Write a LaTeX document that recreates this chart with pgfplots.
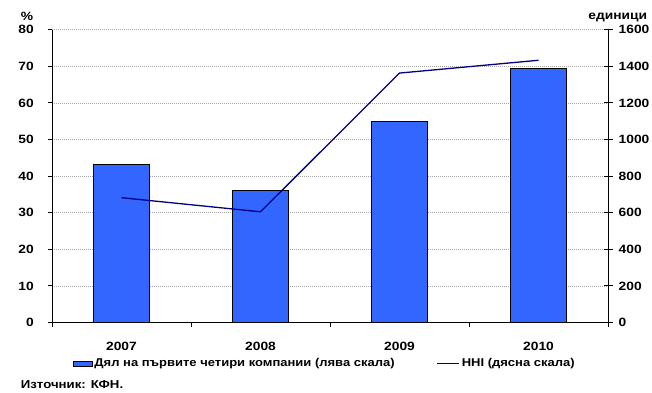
\documentclass[border=0pt]{standalone}
\usepackage{fontspec}
\setmainfont{Liberation Sans}[FakeStretch=1.15]
\usepackage{pgfplots}
\pgfplotsset{compat=1.18}
\definecolor{barblue}{HTML}{3366FF}
\definecolor{hhinavy}{HTML}{000080}
\pgfplotstableread{
x share hhi
0 43.3 682
1 36.0 605
2 55.0 1363
3 69.3 1433
}\datatable
\begin{document}
\begin{tikzpicture}[x=1pt,y=1pt]
\path[use as bounding box] (0,0) rectangle (652,392);
\pgfplotsset{
  common/.style={
    at={(52pt,69.5pt)}, anchor=south west,
    scale only axis, width=556pt, height=292.8pt,
    xmin=-0.5, xmax=3.5,
    axis line style={line width=1pt, black, -},
    tick style={black, line width=1pt},
    tick label style={font=\fontsize{12}{14}\selectfont\bfseries},
    /pgf/number format/assume math mode=true,
    /pgf/number format/1000 sep={},
  }
}
\begin{axis}[common,
  ymin=0, ymax=80,
  axis y line*=left, axis x line*=bottom,
  xtick={-0.5,0.5,1.5,2.5,3.5}, xticklabels={},
  extra x ticks={0,1,2,3},
  extra x tick labels={2007,2008,2009,2010},
  extra x tick style={tick style={draw=none}, grid=none,
     xticklabel style={anchor=center, inner sep=0pt, yshift=-20pt}},
  ytick={0,10,...,80},
  tick align=outside, major tick length=4pt,
  yticklabel style={anchor=east, inner sep=0pt, xshift=-14pt},
  ymajorgrids,
  grid style={black!35, dash pattern=on 1pt off 1pt, line width=0.8pt},
  legend columns=2,
  legend style={at={(0.037,-0.14)}, anchor=west, draw=none, fill=none,
    inner sep=0pt, font=\fontsize{11.3}{13}\selectfont\bfseries,
    cells={anchor=west, inner sep=0pt},
    /tikz/every even column/.append style={column sep=40pt}},
]
\addplot[ybar, bar width=56pt, fill=barblue, draw=black, line width=0.8pt,
  legend image code/.code={\draw[fill=barblue, draw=black, line width=0.7pt] (0pt,-2.5pt) rectangle (19pt,2.5pt);}]
  table[x=x, y=share] {\datatable};
\addlegendentry{Дял на първите четири компании (лява скала)}
\addlegendimage{legend image code/.code={\draw[hhinavy, line width=1.2pt] (0pt,0pt) -- (22pt,0pt);}}
\addlegendentry{HHI (дясна скала)}
\end{axis}
\begin{axis}[common,
  ymin=0, ymax=1600,
  axis y line*=right, axis x line=none,
  ytick={0,200,...,1600},
  tick align=center, major tick length=9pt,
  yticklabel style={anchor=west, inner sep=0pt, xshift=6pt},
]
\addplot[hhinavy, line width=1.3pt] table[x=x, y=hhi] {\datatable};
\end{axis}
\node[font=\fontsize{12}{14}\selectfont\bfseries] at (27pt,376pt) {\%};
\node[font=\fontsize{12}{14}\selectfont\bfseries] at (617.7pt,375pt) {единици};
\node[anchor=base west, inner sep=0pt, font=\fontsize{11.5}{13}\selectfont\bfseries] at (20.7pt,4pt) {Източник: КФН.};
\end{tikzpicture}
\end{document}
